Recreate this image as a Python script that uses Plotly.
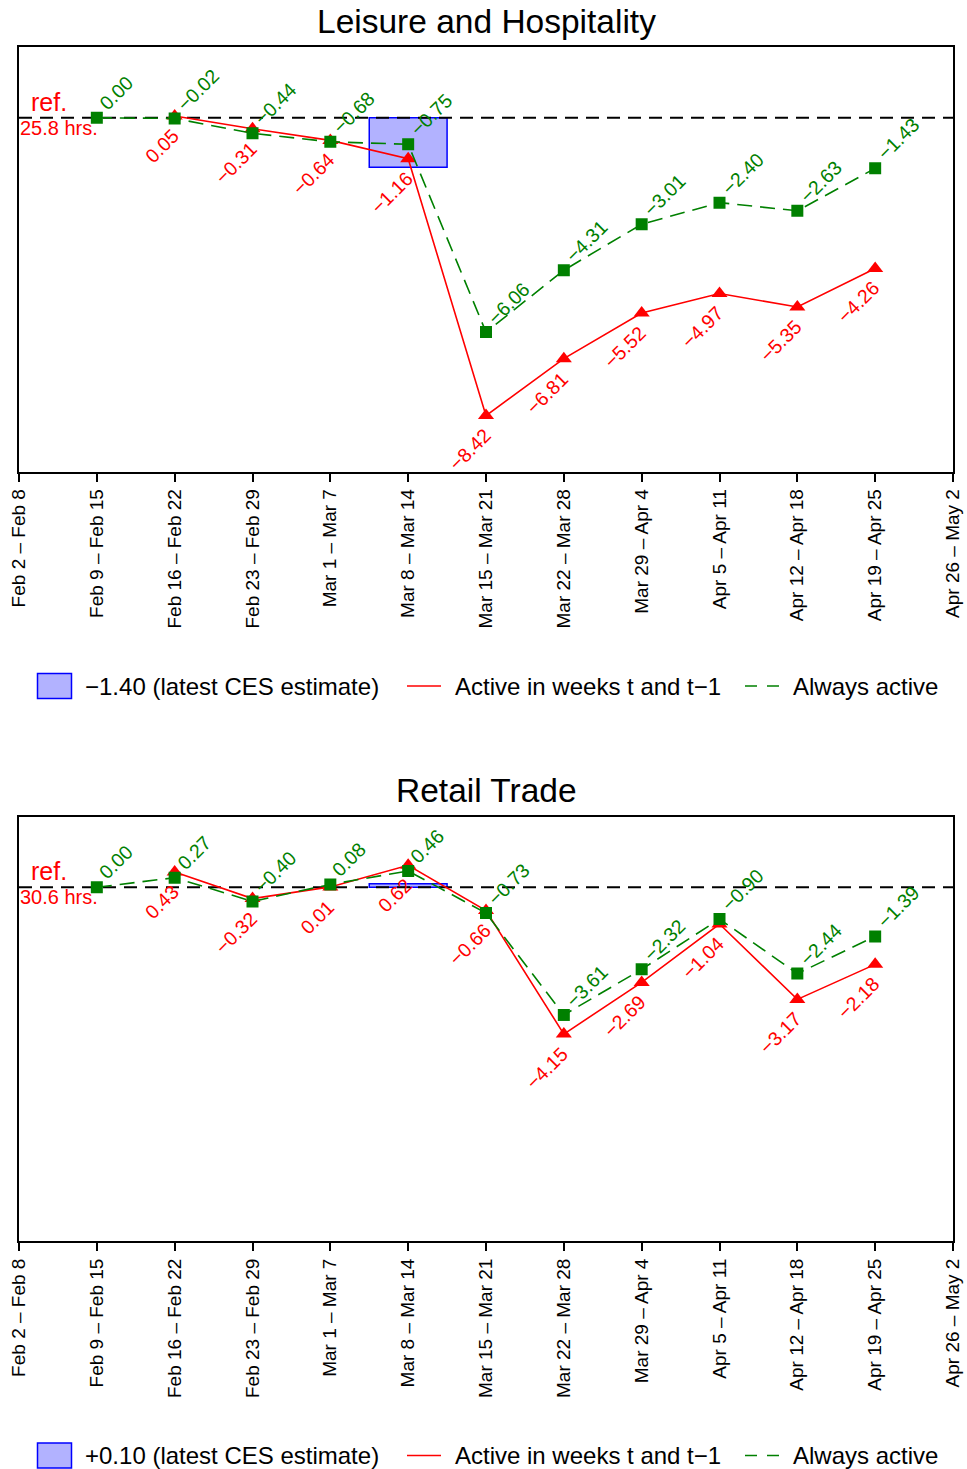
import plotly.graph_objects as go

# ---- data -------------------------------------------------------------
weeks = ["Feb 2 – Feb 8", "Feb 9 – Feb 15", "Feb 16 – Feb 22", "Feb 23 – Feb 29",
         "Mar 1 – Mar 7", "Mar 8 – Mar 14", "Mar 15 – Mar 21", "Mar 22 – Mar 28",
         "Mar 29 – Apr 4", "Apr 5 – Apr 11", "Apr 12 – Apr 18", "Apr 19 – Apr 25",
         "Apr 26 – May 2"]
obs_weeks = weeks[1:12]
ces_week = "Mar 8 – Mar 14"

lh_title = "Leisure and Hospitality"
lh_ref_hours = 25.8
lh_ces = -1.40
lh_always = [0.00, -0.02, -0.44, -0.68, -0.75, -6.06, -4.31, -3.01, -2.40, -2.63, -1.43]
lh_active = [None, 0.05, -0.31, -0.64, -1.16, -8.42, -6.81, -5.52, -4.97, -5.35, -4.26]

rt_title = "Retail Trade"
rt_ref_hours = 30.6
rt_ces = 0.10
rt_always = [0.00, 0.27, -0.40, 0.08, 0.46, -0.73, -3.61, -2.32, -0.90, -2.44, -1.39]
rt_active = [None, 0.43, -0.32, 0.01, 0.62, -0.66, -4.15, -2.69, -1.04, -3.17, -2.18]

active_name = "Active in weeks t and t−1"
always_name = "Always active"

# ---- page geometry (pixels) -------------------------------------------
W, H = 967, 1469
ML, MR, MT, MB = 19, 14, 47, 228
PW, PH = W - ML - MR, H - MT - MB


def fx(px):
    return (px - ML) / PW


def fy(py):
    return (H - MB - py) / PH


RED = "#FF0000"
GREEN = "#008000"
BLUE = "#0000FF"
CES_FILL = "rgba(0,0,255,0.30)"
FONT = "Liberation Sans, Arial, Helvetica, sans-serif"


def fmt(v):
    return f"{v:.2f}".replace("-", "−")


panels = [
    dict(title=lh_title, ref=lh_ref_hours, ces=lh_ces, always=lh_always, active=lh_active,
         xa="x", ya="y", dom=(fy(471.5), 1.0), top_px=47),
    dict(title=rt_title, ref=rt_ref_hours, ces=rt_ces, always=rt_always, active=rt_active,
         xa="x2", ya="y2", dom=(0.0, fy(816.5)), top_px=816.5),
]

fig = go.Figure()
annotations = []
shapes = []

for p in panels:
    xa, ya = p["xa"], p["ya"]
    ces_label = f"{p['ces']:+.2f} (latest CES estimate)".replace("-", "−")

    # latest CES estimate box over its reference week
    fig.add_trace(go.Bar(
        x=[ces_week], y=[p["ces"]], width=1, xaxis=xa, yaxis=ya,
        marker=dict(color=CES_FILL, line=dict(color=BLUE, width=1.5)),
        name=ces_label, showlegend=False, hoverinfo="skip"))

    # reference level (zero change)
    fig.add_trace(go.Scatter(
        x=weeks, y=[0] * len(weeks), mode="lines", xaxis=xa, yaxis=ya,
        line=dict(color="black", width=2, dash="13px,8px"),
        showlegend=False, hoverinfo="skip"))

    # active in weeks t and t-1
    fig.add_trace(go.Scatter(
        x=obs_weeks, y=p["active"], mode="lines+markers", xaxis=xa, yaxis=ya,
        line=dict(color=RED, width=1.6),
        marker=dict(symbol="triangle-up", size=14, color=RED),
        name=active_name, showlegend=False))

    # always active
    fig.add_trace(go.Scatter(
        x=obs_weeks, y=p["always"], mode="lines+markers", xaxis=xa, yaxis=ya,
        line=dict(color=GREEN, width=1.6, dash="15px,8px"),
        marker=dict(symbol="square", size=12, color=GREEN),
        name=always_name, showlegend=False))

    # value labels
    for wk, v in zip(obs_weeks, p["always"]):
        annotations.append(dict(
            x=wk, y=v, xref=xa, yref=ya, text=fmt(v), showarrow=False,
            textangle=-45, xanchor="left", yanchor="bottom", xshift=-5, yshift=1,
            font=dict(family=FONT, size=19.5, color=GREEN)))
    for wk, v in zip(obs_weeks, p["active"]):
        if v is None:
            continue
        annotations.append(dict(
            x=wk, y=v, xref=xa, yref=ya, text=fmt(v), showarrow=False,
            textangle=-45, xanchor="right", yanchor="top", xshift=11, yshift=-6,
            font=dict(family=FONT, size=19.5, color=RED)))

    # reference labels
    annotations.append(dict(
        x=weeks[0], y=0, xref=xa, yref=ya, text="ref.", showarrow=False,
        xanchor="left", yanchor="bottom", xshift=10, yshift=0,
        font=dict(family=FONT, size=25, color=RED)))
    annotations.append(dict(
        x=weeks[0], y=0, xref=xa, yref=ya, text=f"{p['ref']} hrs.", showarrow=False,
        xanchor="left", yanchor="top", xshift=-1, yshift=3,
        font=dict(family=FONT, size=20, color=RED)))

    # panel title
    top = p["top_px"]
    annotations.append(dict(
        x=0.5, y=fy(top - 25.6), xref="paper", yref="paper", text=p["title"],
        showarrow=False, xanchor="center", yanchor="middle",
        font=dict(family=FONT, size=33.5, color="black")))

    # legend row beneath the panel
    ly = top + 639
    shapes.append(dict(type="rect", xref="paper", yref="paper",
                       x0=fx(37.5), x1=fx(71.5), y0=fy(ly - 12.5), y1=fy(ly + 12.5),
                       fillcolor=CES_FILL, line=dict(color=BLUE, width=1.5)))
    shapes.append(dict(type="line", xref="paper", yref="paper",
                       x0=fx(407), x1=fx(441), y0=fy(ly), y1=fy(ly),
                       line=dict(color=RED, width=1.6)))
    shapes.append(dict(type="line", xref="paper", yref="paper",
                       x0=fx(745), x1=fx(779), y0=fy(ly), y1=fy(ly),
                       line=dict(color=GREEN, width=1.6, dash="12px,10px")))
    for tx, label in [(83, ces_label), (453, active_name), (791, always_name)]:
        annotations.append(dict(
            x=fx(tx), y=fy(ly), xref="paper", yref="paper", text=label,
            showarrow=False, xanchor="left", yanchor="middle",
            font=dict(family=FONT, size=24, color="black")))

xaxis_style = dict(
    type="category", categoryorder="array", categoryarray=weeks,
    range=[0, len(weeks) - 1], showgrid=False, zeroline=False, automargin=False,
    showline=True, mirror=True, linecolor="black", linewidth=2,
    ticks="outside", ticklen=8, tickwidth=2, tickcolor="black",
    tickangle=-90, tickfont=dict(family=FONT, size=19, color="black"),
    fixedrange=True)
yaxis_style = dict(
    range=[-10, 2], showgrid=False, zeroline=False, showticklabels=False,
    automargin=False, ticks="", showline=True, mirror=True, linecolor="black",
    linewidth=2, fixedrange=True)

fig.update_layout(
    width=W, height=H,
    margin=dict(l=ML, r=MR, t=MT, b=MB, pad=0, autoexpand=False),
    paper_bgcolor="white", plot_bgcolor="white",
    showlegend=False, barmode="overlay",
    font=dict(family=FONT, color="black"),
    xaxis=dict(**xaxis_style, anchor="y", domain=[0, 1]),
    yaxis=dict(**yaxis_style, anchor="x", domain=list(panels[0]["dom"])),
    xaxis2=dict(**xaxis_style, anchor="y2", domain=[0, 1]),
    yaxis2=dict(**yaxis_style, anchor="x2", domain=list(panels[1]["dom"])),
    annotations=annotations, shapes=shapes)

fig.write_html("out.html")
